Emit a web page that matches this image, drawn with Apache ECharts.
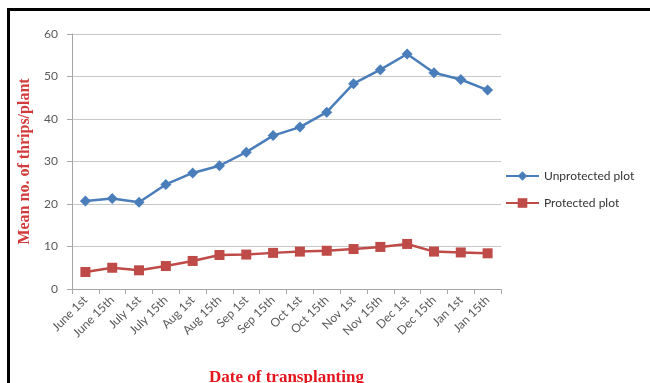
<!DOCTYPE html>
<html>
<head>
<meta charset="utf-8">
<script src="https://cdn.jsdelivr.net/npm/echarts@6/dist/echarts.min.js"></script>
<style>
  html, body { margin: 0; padding: 0; background: #fff; }
  #wrap { position: relative; width: 650px; height: 383px; }
  #chart { position: absolute; left: 0; top: 0; width: 650px; height: 383px; }
  #frame { position: absolute; left: 7px; top: 8px; width: 650px; height: 383px;
           border-left: 3px solid #000; border-top: 3px solid #000; pointer-events: none; }
</style>
</head>
<body>
<div id="wrap">
  <div id="chart"></div>
  <div id="frame"></div>
</div>
<script>
  const dates = ['June 1st', 'June 15th', 'July 1st', 'July 15th', 'Aug 1st', 'Aug 15th',
    'Sep 1st', 'Sep 15th', 'Oct 1st', 'Oct 15th', 'Nov 1st', 'Nov 15th',
    'Dec 1st', 'Dec 15th', 'Jan 1st', 'Jan 15th'];
  const unprotected = [20.7, 21.3, 20.4, 24.6, 27.3, 29.0, 32.2, 36.1, 38.1, 41.6, 48.3, 51.6, 55.3, 50.9, 49.3, 46.8];
  const protectedPlot = [4.0, 5.0, 4.4, 5.4, 6.6, 8.0, 8.1, 8.5, 8.8, 9.0, 9.4, 9.9, 10.6, 8.8, 8.6, 8.4];

  const chart = echarts.init(document.getElementById('chart'));
  const tickColor = '#595959';
  const lineGray = '#a6a6a6';

  chart.setOption({
    animation: false,
    grid: {
      left: 72,
      right: 149,
      top: 34,
      bottom: 94,
      outerBoundsMode: 'none'
    },
    legend: {
      orient: 'vertical',
      left: 500,
      top: 165,
      itemWidth: 33,
      itemHeight: 12,
      itemGap: 15,
      textStyle: {
        fontFamily: 'Lato',
        fontSize: 12,
        color: '#333'
      },
      data: [
        {name: 'Unprotected plot'},
        {name: 'Protected plot'}
      ]
    },
    xAxis: {
      type: 'category',
      data: dates,
      boundaryGap: true,
      name: 'Date of transplanting',
      nameLocation: 'middle',
      nameGap: 80,
      nameTextStyle: {
        fontFamily: 'Liberation Serif',
        fontWeight: 'bold',
        fontSize: 17,
        color: '#e3161e'
      },
      axisLine: {lineStyle: {color: lineGray}},
      axisTick: {show: true, length: 5, lineStyle: {color: lineGray}},
      axisLabel: {
        rotate: 45,
        margin: 9,
        interval: 0,
        fontFamily: 'Lato',
        fontSize: 12,
        color: tickColor
      }
    },
    yAxis: {
      type: 'value',
      min: 0,
      max: 60,
      interval: 10,
      name: 'Mean no. of thrips/plant',
      nameLocation: 'middle',
      nameGap: 39,
      nameRotate: 90,
      nameTextStyle: {
        fontFamily: 'Liberation Serif',
        fontWeight: 'bold',
        fontSize: 16,
        color: '#d23b3b'
      },
      axisLine: {show: true, lineStyle: {color: lineGray}},
      axisTick: {show: true, length: 5, lineStyle: {color: lineGray}},
      axisLabel: {
        margin: 14,
        fontFamily: 'Lato',
        fontSize: 12,
        color: tickColor
      },
      splitLine: {lineStyle: {color: '#c8c8c8'}}
    },
    series: [
      {
        name: 'Unprotected plot',
        type: 'line',
        data: unprotected,
        symbol: 'diamond',
        symbolSize: 11,
        showSymbol: true,
        lineStyle: {color: '#4a7ebb', width: 2.5},
        itemStyle: {color: '#4a7ebb'}
      },
      {
        name: 'Protected plot',
        type: 'line',
        data: protectedPlot,
        symbol: 'rect',
        symbolSize: 10,
        showSymbol: true,
        lineStyle: {color: '#be4b48', width: 2.5},
        itemStyle: {color: '#be4b48'}
      }
    ]
  });
</script>
</body>
</html>
